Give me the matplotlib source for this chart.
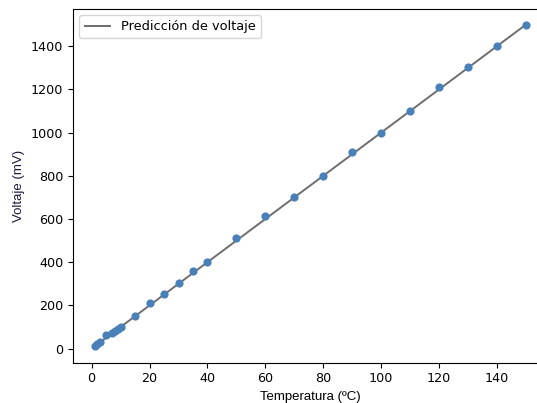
import matplotlib
matplotlib.use("Agg")
import matplotlib.pyplot as plt

# medidas (temperatura en ºC, voltaje en mV)
temperaturas = [1, 2, 3, 5, 7, 8, 9, 10, 15, 20, 25, 30, 35, 40, 50,
                60, 70, 80, 90, 100, 110, 120, 130, 140, 150]
voltajes = [10, 20, 30, 62, 70, 80, 92, 100, 152, 212, 252, 302, 360, 400, 510,
            612, 702, 800, 910, 1000, 1102, 1210, 1302, 1400, 1500]

# prediccion del modelo
temp_pred = [1, 150]
volt_pred = [10, 1500]

fig = plt.figure(figsize=(5.37, 4.03), dpi=100)
# el eje sigue mas alla del borde derecho (captura recortada)
ax = fig.add_axes([73/537, 1 - 362.5/403, (547.5 - 73)/537, (362.5 - 8.5)/403])

ax.plot(temp_pred, volt_pred, color='#6e6e6e', linewidth=1.4, label="Predicción de voltaje")
ax.scatter(temperaturas, voltajes, color='#4a80b8', s=24, zorder=3)

ax.spines['right'].set_visible(False)
ax.tick_params(labelsize=9.2)
ax.set_xlabel("Temperatura (ºC)", family='Liberation Sans', fontsize=9.5)
ax.set_ylabel("Voltaje (mV)", family='Liberation Sans', fontsize=9.5, color='#1a1a40')
ax.set_xticks([0, 20, 40, 60, 80, 100, 120, 140])
ax.legend(loc='upper left', fontsize=9.3)

plt.savefig("out.png", dpi=100)
